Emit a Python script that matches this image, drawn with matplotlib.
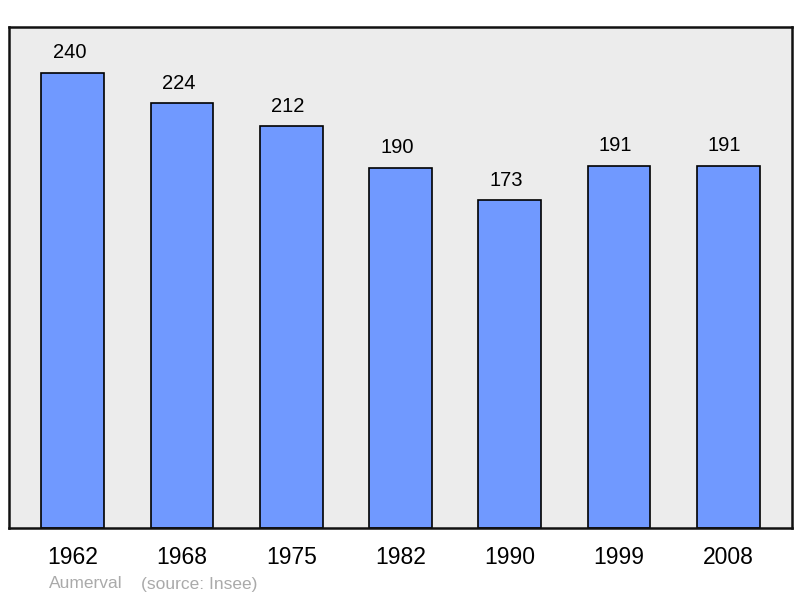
import matplotlib
matplotlib.use("Agg")
import matplotlib.pyplot as plt
import numpy as np

plt.rcParams["font.family"] = ["Liberation Sans", "DejaVu Sans"]

# population by census year
years = ["1962", "1968", "1975", "1982", "1990", "1999", "2008"]
population = [240, 224, 212, 190, 173, 191, 191]
footer_left = "Aumerval"
footer_right = "(source: Insee)"

fig = plt.figure(figsize=(8, 5.98), dpi=100)
ax = fig.add_axes([9 / 800, 70 / 598, 783 / 800, 501 / 598])
ax.set_facecolor("#ececec")

x = np.arange(len(years))
bars = ax.bar(x, population, width=0.575, color="#7099ff",
              edgecolor="black", linewidth=1.2, zorder=2)
# value labels sit a touch left of the bar centre, as in the original
for xi, v in zip(x, population):
    ax.annotate(str(v), (xi, v), xytext=(-2.5, 7.5), textcoords="offset points",
                ha="center", va="bottom", fontsize=14.5)

ax.set_xlim(-0.585, len(years) - 1 + 0.585)
ax.set_ylim(0, 264.2)
ax.set_yticks([])
ax.set_xticks(x)
ax.set_xticklabels(years, fontsize=16.5)
ax.tick_params(axis="x", length=0, pad=13)
for s in ax.spines.values():
    s.set_linewidth(1.8)
    s.set_color("#111111")

fig.text(49 / 800, 1 - 584 / 598, footer_left, color="#aaaaaa",
         fontsize=12.5, ha="left", va="center")
fig.text(141 / 800, 1 - 584 / 598, footer_right, color="#aaaaaa",
         fontsize=12.5, ha="left", va="center")

fig.savefig("out.png", dpi=100, facecolor="white")
